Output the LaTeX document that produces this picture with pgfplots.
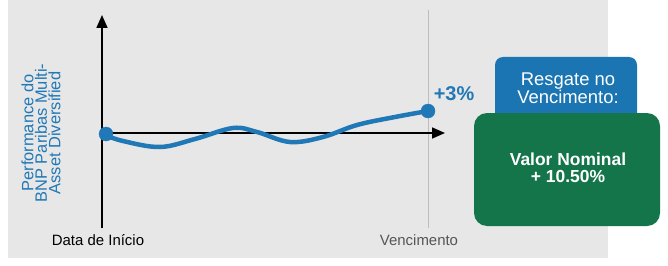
\documentclass[border=0pt]{standalone}
\usepackage{pgfplots}
\pgfplotsset{compat=1.18}
\usepackage{fontspec}
\setmainfont{Liberation Sans}
\usetikzlibrary{arrows.meta}
\definecolor{bnpblue}{HTML}{2178B6}
\definecolor{boxblue}{HTML}{1A75B2}
\definecolor{boxgreen}{HTML}{15754A}
\definecolor{panel}{HTML}{E7E7E7}
\definecolor{vline}{HTML}{BDBDBD}
\definecolor{vtext}{HTML}{555555}
\begin{document}
\begin{tikzpicture}
\begin{axis}[
  width=668bp, height=266bp, scale only axis,
  xmin=0, xmax=668, ymin=0, ymax=266, y dir=reverse,
  hide axis, clip=false, enlargelimits=false,
]
% background
\fill[white] (axis cs:0,0) rectangle (axis cs:668,266);
\fill[panel] (axis cs:8,0) rectangle (axis cs:608,258);
% vencimento line
\draw[vline, line width=0.8bp] (axis cs:428,10) -- (axis cs:428,228);
% axes
\draw[black, line width=1.6bp, -{Triangle[length=13bp,width=11bp]}] (axis cs:102,228) -- (axis cs:102,15);
\draw[black, line width=1.6bp, -{Triangle[length=13bp,width=11bp]}] (axis cs:102,133) -- (axis cs:445,133);
% curve
\addplot[bnpblue, line width=4.5bp, smooth, tension=0.6] coordinates {
(105,135) (123,141) (160,147) (195,139) (233,128) (257,132) (290,142) (323,137) (357,125) (395,117) (428,111)};
\addplot[bnpblue, only marks, mark=*, mark size=7bp, mark options={draw=bnpblue, fill=bnpblue}] coordinates {(106,134) (428,111)};
% labels
\node[bnpblue, font=\bfseries\fontsize{20}{22}\selectfont] at (axis cs:454,94) {+3\%};
\node[black, font=\fontsize{15}{16}\selectfont] at (axis cs:98,240) {Data de Início};
\node[vtext, font=\fontsize{15}{16}\selectfont] at (axis cs:419,240) {Vencimento};
\node[bnpblue, rotate=90, align=center, font=\fontsize{16.5}{13.5}\selectfont] at (axis cs:41,133) {Performance do\\BNP Paribas Multi-\\Asset Diversified};
% boxes
\fill[boxblue, rounded corners=8bp] (axis cs:495,57) rectangle (axis cs:637,125);
\node[white, align=center, font=\fontsize{18.5}{17}\selectfont] at (axis cs:568,88) {Resgate no\\Vencimento:};
\fill[boxgreen, rounded corners=13bp] (axis cs:474,113) rectangle (axis cs:660,226);
\node[white, align=center, font=\bfseries\fontsize{17.5}{17}\selectfont] at (axis cs:568,168) {Valor Nominal\\+ 10.50\%};
\end{axis}
\end{tikzpicture}
\end{document}
